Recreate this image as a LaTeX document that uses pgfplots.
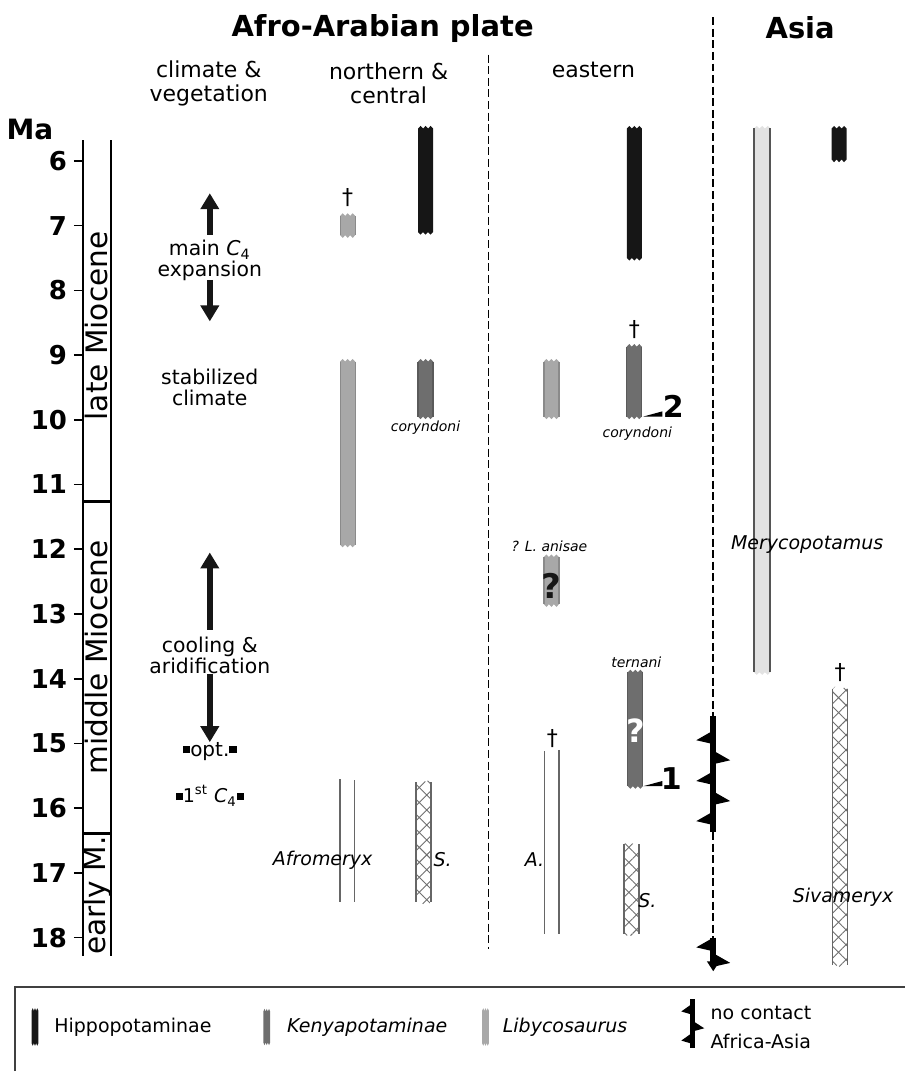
\documentclass[border=0pt]{standalone}
\usepackage{fontspec}
\setmainfont{DejaVu Sans}
\usepackage{pgfplots}
\pgfplotsset{compat=1.18}
\usetikzlibrary{arrows.meta,patterns.meta}

\definecolor{hippo}{HTML}{161616}
\definecolor{kenya}{HTML}{6E6E6E}
\definecolor{kenyaedge}{HTML}{5A5A5A}
\definecolor{liby}{HTML}{A8A8A8}
\definecolor{libyedge}{HTML}{8A8A8A}
\definecolor{mery}{HTML}{E2E2E2}
\definecolor{meryedge}{HTML}{555555}
\definecolor{hatchc}{HTML}{707070}
\definecolor{dline}{HTML}{666666}

% range bar with wavy ends: [half width]{x}{top Ma}{bottom Ma}{style}
\newcommand{\rbar}[5][7.5]{%
  \pgfmathsetmacro{\rbXa}{#2-#1}%
  \pgfmathsetmacro{\rbXb}{#2-2*#1/3}%
  \pgfmathsetmacro{\rbXc}{#2-#1/3}%
  \pgfmathsetmacro{\rbXd}{#2}%
  \pgfmathsetmacro{\rbXe}{#2+#1/3}%
  \pgfmathsetmacro{\rbXf}{#2+2*#1/3}%
  \pgfmathsetmacro{\rbXg}{#2+#1}%
  \pgfmathsetmacro{\rbYt}{#3-0.04}%
  \pgfmathsetmacro{\rbYb}{#4+0.04}%
  \addplot[#5] coordinates {(\rbXa,#3)(\rbXb,\rbYt)(\rbXc,#3)(\rbXd,\rbYt)(\rbXe,#3)(\rbXf,\rbYt)(\rbXg,#3)
    (\rbXg,#4)(\rbXf,\rbYb)(\rbXe,#4)(\rbXd,\rbYb)(\rbXc,#4)(\rbXb,\rbYb)(\rbXa,#4)} --cycle;}
% side lines of a bar
\newcommand{\redges}[5][7.5]{%
  \pgfmathsetmacro{\rbXa}{#2-#1}%
  \pgfmathsetmacro{\rbXg}{#2+#1}%
  \addplot[#5] coordinates {(\rbXa,#3)(\rbXa,#4)};
  \addplot[#5] coordinates {(\rbXg,#3)(\rbXg,#4)};}

\newcommand{\fs}[1]{\fontsize{#1}{#1}\selectfont}

\begin{document}
\begin{tikzpicture}
\begin{axis}[
    scale only axis, width=411.5pt, height=408.6pt,
    xmin=82, xmax=905, ymin=5.68, ymax=18.29, y dir=reverse,
    axis x line=none, axis y line=left,
    axis line style={-, line width=0.8pt},
    ytick={6,7,8,9,10,11,12,13,14,15,16,17,18},
    tick align=outside, major tick length=4.5pt,
    y tick style={line width=0.8pt, black},
    yticklabel style={font=\fs{13}\bfseries},
    /pgf/number format/assume math mode=true,
    clip=false,
]
\path (axis cs:0,3.515) rectangle (axis cs:905,20.06);

% headers
\node[font=\fs{14.5}\bfseries] at (axis cs:382,3.95) {Afro-Arabian plate};
\node[font=\fs{14.5}\bfseries] at (axis cs:800,3.95) {Asia};
\node[font=\fs{11}, align=center] at (axis cs:208,4.8) {climate \&\\[1pt]vegetation};
\node[font=\fs{11}, align=center] at (axis cs:388,4.8) {northern \&\\[1pt]central};
\node[font=\fs{11}] at (axis cs:593,4.6) {eastern};
\node[font=\fs{14}\bfseries] at (axis cs:29,5.52) {Ma};

% epoch column
\addplot[black, line width=0.8pt] coordinates {(110,5.68)(110,18.29)};
\addplot[black, line width=1.3pt] coordinates {(82,11.26)(110,11.26)};
\addplot[black, line width=1.3pt] coordinates {(82,16.39)(110,16.39)};
\node[rotate=90, font=\fs{14.8}] at (axis cs:96,8.55) {late Miocene};
\node[rotate=90, font=\fs{14.8}] at (axis cs:96,13.67) {middle Miocene};
\node[rotate=90, font=\fs{14.8}] at (axis cs:96,17.35) {early M.};

% climate & vegetation
\addplot[hippo, line width=2.8pt, -{Triangle[width=9pt,length=8pt]}] coordinates {(209,7.14)(209,6.5)};
\addplot[hippo, line width=2.8pt, -{Triangle[width=9pt,length=8pt]}] coordinates {(209,7.84)(209,8.48)};
\addplot[hippo, line width=2.8pt, -{Triangle[width=9pt,length=8pt]}] coordinates {(209,13.24)(209,12.05)};
\addplot[hippo, line width=2.8pt, -{Triangle[width=9pt,length=8pt]}] coordinates {(209,13.93)(209,14.98)};
\node[font=\fs{10.2}, align=center] at (axis cs:209,7.54) {main \textit{C}\textsubscript{4}\\expansion};
\node[font=\fs{10.2}, align=center] at (axis cs:209,9.5) {stabilized\\climate};
\node[font=\fs{10.2}, align=center] at (axis cs:209,13.64) {cooling \&\\aridification};
\node[font=\fs{10}] at (axis cs:209,15.12) {\rule[0.25ex]{3.6pt}{3.6pt}opt.\rule[0.25ex]{3.6pt}{3.6pt}};
\node[font=\fs{9.5}] at (axis cs:209,15.81) {\rule[0.25ex]{3.6pt}{3.6pt}1\textsuperscript{st} \textit{C}\textsubscript{4}\rule[0.25ex]{3.6pt}{3.6pt}};

% region separators
\addplot[black, line width=0.85pt, dash pattern=on 4pt off 1.8pt] coordinates {(488,4.36)(488,18.18)};
\addplot[black, line width=0.85pt, dash pattern=on 4pt off 1.8pt] coordinates {(713,3.78)(713,14.58)};
\addplot[black, line width=0.85pt, dash pattern=on 4pt off 1.8pt] coordinates {(713,16.37)(713,18.0)};

% no contact Africa-Asia
\addplot[black, line width=3pt] coordinates {(713,14.58)(713,16.37)};
\addplot[black, line width=3pt, -{Triangle[width=6pt,length=5pt]}] coordinates {(713,18.0)(713,18.52)};
\addplot[fill=black, draw=none] coordinates {(713,14.80)(696,14.95)(713,15.01)} --cycle;
\addplot[fill=black, draw=none] coordinates {(713,15.11)(730,15.26)(713,15.32)} --cycle;
\addplot[fill=black, draw=none] coordinates {(713,15.43)(696,15.58)(713,15.64)} --cycle;
\addplot[fill=black, draw=none] coordinates {(713,15.74)(730,15.89)(713,15.95)} --cycle;
\addplot[fill=black, draw=none] coordinates {(713,16.05)(696,16.20)(713,16.26)} --cycle;
\addplot[fill=black, draw=none] coordinates {(713,18.00)(696,18.15)(713,18.21)} --cycle;
\addplot[fill=black, draw=none] coordinates {(713,18.24)(730,18.39)(713,18.45)} --cycle;

% northern & central
\rbar{347}{6.85}{7.15}{fill=liby, draw=none}
\redges{347}{6.85}{7.15}{libyedge, line width=0.6pt}
\rbar{425}{5.5}{7.1}{fill=hippo, draw=none}
\rbar{347}{9.1}{11.93}{fill=liby, draw=none}
\redges{347}{9.1}{11.93}{libyedge, line width=0.6pt}
\rbar{425}{9.1}{9.95}{fill=kenya, draw=none}
\redges{425}{9.1}{9.95}{kenyaedge, line width=0.6pt}
\addplot[dline, line width=0.7pt] coordinates {(339.3,15.55)(339.3,17.45)};
\addplot[dline, line width=0.7pt] coordinates {(354,15.57)(354,17.45)};
\rbar{423}{15.6}{17.45}{draw=none, pattern={Hatch[angle=45,distance=5.3pt,line width=0.45pt]}, pattern color=hatchc}
\redges{423}{15.6}{17.45}{dline, line width=0.7pt}

% eastern
\rbar{551}{9.1}{9.95}{fill=liby, draw=none}
\redges{551}{9.1}{9.95}{libyedge, line width=0.6pt}
\rbar{634}{5.5}{7.5}{fill=hippo, draw=none}
\rbar{634}{8.87}{9.95}{fill=kenya, draw=none}
\redges{634}{8.87}{9.95}{kenyaedge, line width=0.6pt}
\rbar{551}{12.12}{12.85}{fill=liby, draw=none}
\redges{551}{12.12}{12.85}{libyedge, line width=0.6pt}
\rbar{635}{13.9}{15.66}{fill=kenya, draw=none}
\redges{635}{13.9}{15.66}{kenyaedge, line width=0.6pt}
\addplot[dline, line width=0.7pt] coordinates {(544,15.12)(544,17.94)};
\addplot[dline, line width=0.7pt] coordinates {(558.7,15.1)(558.7,17.94)};
\rbar{631}{16.56}{17.94}{draw=none, pattern={Hatch[angle=45,distance=5.3pt,line width=0.45pt]}, pattern color=hatchc}
\redges{631}{16.56}{17.94}{dline, line width=0.7pt}
\addplot[fill=black, draw=none] coordinates {(643,9.95)(662,9.95)(662,9.87)} --cycle;
\addplot[fill=black, draw=none] coordinates {(643,15.66)(662,15.66)(662,15.58)} --cycle;

% Asia
\rbar[8.3]{762}{5.5}{13.9}{fill=mery, draw=none}
\redges[8.0]{762}{5.5}{13.9}{meryedge, line width=0.85pt}
\rbar{839}{5.5}{5.98}{fill=hippo, draw=none}
\rbar{840}{14.16}{18.42}{draw=none, pattern={Hatch[angle=45,distance=5.3pt,line width=0.45pt]}, pattern color=hatchc}
\redges{840}{14.16}{18.42}{dline, line width=0.7pt}

% daggers
\node[font=\fs{11}] at (axis cs:347,6.57) {†};
\node[font=\fs{11}] at (axis cs:634,8.6) {†};
\node[font=\fs{11}] at (axis cs:552,14.93) {†};
\node[font=\fs{11}] at (axis cs:840,13.9) {†};

% question marks and numbers
\node[font=\fs{17}\bfseries, text=hippo] at (axis cs:551,12.57) {?};
\node[font=\fs{16}\bfseries, text=white] at (axis cs:635,14.8) {?};
\node[font=\fs{15}\bfseries] at (axis cs:673,9.8) {2};
\node[font=\fs{15}\bfseries] at (axis cs:671,15.54) {1};

% taxon labels
\node[font=\fs{7}\itshape] at (axis cs:425,10.12) {coryndoni};
\node[font=\fs{7}\itshape] at (axis cs:637,10.22) {coryndoni};
\node[font=\fs{7}\itshape] at (axis cs:549,11.95) {? L. anisae};
\node[font=\fs{7}\itshape] at (axis cs:636,13.75) {ternani};
\node[font=\fs{9.5}\itshape] at (axis cs:807,11.93) {Merycopotamus};
\node[font=\fs{9.5}\itshape] at (axis cs:843,17.37) {Sivameryx};
\node[font=\fs{9.5}\itshape] at (axis cs:322,16.8) {Afromeryx};
\node[font=\fs{9.5}\itshape] at (axis cs:442,16.8) {S.};
\node[font=\fs{9.5}\itshape] at (axis cs:534,16.8) {A.};
\node[font=\fs{9.5}\itshape] at (axis cs:647,17.43) {S.};

% legend
\addplot[black!75, line width=1pt] coordinates {(14,20.06)(14,18.76)(905,18.76)};
\rbar[3.4]{34}{19.13}{19.63}{fill=hippo, draw=none}
\node[font=\fs{9.5}, anchor=west, inner sep=0pt] at (axis cs:53,19.38) {Hippopotaminae};
\rbar[3.4]{266}{19.14}{19.62}{fill=kenya, draw=none}
\node[font=\fs{9.5}\itshape, anchor=west, inner sep=0pt] at (axis cs:286,19.38) {Kenyapotaminae};
\rbar[3.4]{485}{19.13}{19.63}{fill=liby, draw=none}
\node[font=\fs{9.5}\itshape, anchor=west, inner sep=0pt] at (axis cs:502,19.38) {Libycosaurus};
\addplot[black, line width=2.5pt] coordinates {(692,18.95)(692,19.70)};
\addplot[fill=black, draw=none] coordinates {(692,19.02)(681,19.14)(692,19.19)} --cycle;
\addplot[fill=black, draw=none] coordinates {(692,19.28)(704,19.40)(692,19.45)} --cycle;
\addplot[fill=black, draw=none] coordinates {(692,19.47)(681,19.59)(692,19.64)} --cycle;
\node[font=\fs{9.5}, anchor=west, inner sep=0pt] at (axis cs:710,19.16) {no contact};
\node[font=\fs{9.5}, anchor=west, inner sep=0pt] at (axis cs:710,19.61) {Africa-Asia};
\end{axis}
\end{tikzpicture}
\end{document}
